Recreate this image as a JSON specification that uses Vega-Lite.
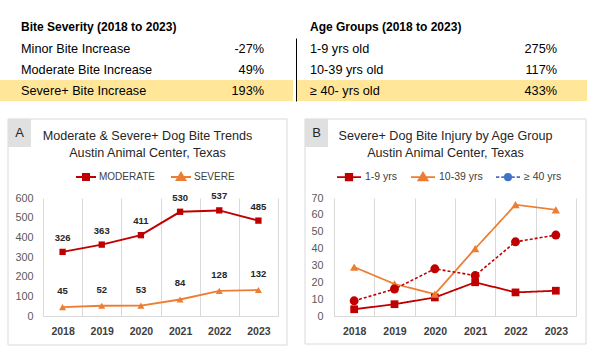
{
  "$schema": "https://vega.github.io/schema/vega-lite/v6.json",
  "padding": {"left": 0, "top": 21, "right": 0, "bottom": 0},
  "autosize": {"type": "pad"},
  "background": "white",
  "config": {"font": "Liberation Sans", "view": {"stroke": null}},
  "datasets": {
    "severity": [
      {"row": 1, "label": "Minor Bite Increase", "value": "-27%"},
      {"row": 2, "label": "Moderate Bite Increase", "value": "49%"},
      {"row": 3, "label": "Severe+ Bite Increase", "value": "193%"}
    ],
    "age": [
      {"row": 1, "label": "1-9 yrs old", "value": "275%"},
      {"row": 2, "label": "10-39 yrs old", "value": "117%"},
      {"row": 3, "label": "≥ 40- yrs old", "value": "433%"}
    ],
    "bites": [
      {"year": "2018", "series": "MODERATE", "count": 326},
      {"year": "2019", "series": "MODERATE", "count": 363},
      {"year": "2020", "series": "MODERATE", "count": 411},
      {"year": "2021", "series": "MODERATE", "count": 530},
      {"year": "2022", "series": "MODERATE", "count": 537},
      {"year": "2023", "series": "MODERATE", "count": 485},
      {"year": "2018", "series": "SEVERE", "count": 45},
      {"year": "2019", "series": "SEVERE", "count": 52},
      {"year": "2020", "series": "SEVERE", "count": 53},
      {"year": "2021", "series": "SEVERE", "count": 84},
      {"year": "2022", "series": "SEVERE", "count": 128},
      {"year": "2023", "series": "SEVERE", "count": 132}
    ],
    "ages": [
      {"year": "2018", "series": "1-9 yrs", "count": 4},
      {"year": "2019", "series": "1-9 yrs", "count": 7},
      {"year": "2020", "series": "1-9 yrs", "count": 11},
      {"year": "2021", "series": "1-9 yrs", "count": 20},
      {"year": "2022", "series": "1-9 yrs", "count": 14},
      {"year": "2023", "series": "1-9 yrs", "count": 15},
      {"year": "2018", "series": "10-39 yrs", "count": 29},
      {"year": "2019", "series": "10-39 yrs", "count": 19},
      {"year": "2020", "series": "10-39 yrs", "count": 13},
      {"year": "2021", "series": "10-39 yrs", "count": 40},
      {"year": "2022", "series": "10-39 yrs", "count": 66},
      {"year": "2023", "series": "10-39 yrs", "count": 63},
      {"year": "2018", "series": "≥ 40 yrs", "count": 9},
      {"year": "2019", "series": "≥ 40 yrs", "count": 16},
      {"year": "2020", "series": "≥ 40 yrs", "count": 28},
      {"year": "2021", "series": "≥ 40 yrs", "count": 24},
      {"year": "2022", "series": "≥ 40 yrs", "count": 44},
      {"year": "2023", "series": "≥ 40 yrs", "count": 48}
    ]
  },
  "vconcat": [
    {
      "hconcat": [
        {
          "width": 250, "height": 63,
          "data": {"name": "severity"},
          "title": {"text": "Bite Severity (2018 to 2023)", "anchor": "start", "frame": "group", "dx": -22, "offset": 4, "fontSize": 12, "fontWeight": "bold", "color": "#000000"},
          "layer": [
            {
              "transform": [{"filter": "datum.row == 3"}],
              "mark": {"type": "rect", "fill": "#FFE699"},
              "encoding": {
                "y": {"field": "row", "type": "ordinal", "scale": {"type": "band", "domain": [1, 2, 3], "paddingInner": 0, "paddingOuter": 0}, "axis": null},
                "x": {"datum": 0, "type": "quantitative", "scale": {"domain": [0, 1], "range": [-43, 250], "nice": false, "zero": false}, "axis": null},
                "x2": {"datum": 1}
              }
            },
            {
              "layer": [
                {
                  "mark": {"type": "text", "align": "left", "baseline": "middle", "fontSize": 12.7, "color": "#000000"},
                  "encoding": {
                    "y": {"field": "row", "type": "ordinal", "axis": null},
                    "x": {"datum": "label", "type": "nominal", "scale": {"type": "point", "domain": ["label", "value"], "range": [-22, 221], "padding": 0}, "axis": null},
                    "text": {"field": "label", "type": "nominal"}
                  }
                },
                {
                  "mark": {"type": "text", "align": "right", "baseline": "middle", "fontSize": 12.7, "color": "#000000"},
                  "encoding": {
                    "y": {"field": "row", "type": "ordinal", "axis": null},
                    "x": {"datum": "value", "type": "nominal", "axis": null},
                    "text": {"field": "value", "type": "nominal"}
                  }
                }
              ]
            }
          ],
          "resolve": {"scale": {"x": "independent"}}
        },
        {
          "width": 291, "height": 63,
          "data": {"name": "age"},
          "title": {"text": "Age Groups (2018 to 2023)", "anchor": "start", "frame": "group", "dx": 14, "offset": 4, "fontSize": 12, "fontWeight": "bold", "color": "#000000"},
          "layer": [
            {
              "transform": [{"filter": "datum.row == 3"}],
              "mark": {"type": "rect", "fill": "#FFE699"},
              "encoding": {"y": {"field": "row", "type": "ordinal", "scale": {"type": "band", "domain": [1, 2, 3], "paddingInner": 0, "paddingOuter": 0}, "axis": {"orient": "left", "labels": false, "ticks": false, "grid": false, "title": null, "domain": true, "domainColor": "#000000", "domainWidth": 1}}}
            },
            {
              "mark": {"type": "text", "align": "left", "baseline": "middle", "fontSize": 12.7, "color": "#000000"},
              "encoding": {
                "y": {"field": "row", "type": "ordinal"},
                "x": {"datum": "label", "type": "nominal", "scale": {"type": "point", "domain": ["label", "value"], "range": [14, 261], "padding": 0}, "axis": null},
                "text": {"field": "label", "type": "nominal"}
              }
            },
            {
              "mark": {"type": "text", "align": "right", "baseline": "middle", "fontSize": 12.7, "color": "#000000"},
              "encoding": {
                "y": {"field": "row", "type": "ordinal"},
                "x": {"datum": "value", "type": "nominal", "axis": null},
                "text": {"field": "value", "type": "nominal"}
              }
            }
          ]
        }
      ],
      "spacing": 3
    },
    {
      "hconcat": [
        {
          "width": 235, "height": 118,
          "title": {"text": ["Moderate & Severe+ Dog Bite Trends", "Austin Animal Center, Texas"], "anchor": "middle", "frame": "bounds", "fontSize": 12.6, "fontWeight": "normal", "color": "#262626", "lineHeight": 17, "offset": -41},
          "layer": [
            {
              "data": {"values": [{}]},
              "layer": [
                {
                  "mark": {"type": "rect", "fill": "transparent", "stroke": "#d9d9d9", "strokeWidth": 1},
                  "encoding": {
                    "x": {"datum": -0.1489, "type": "quantitative", "scale": {"domain": [0, 1], "nice": false, "zero": false}, "axis": null},
                    "x2": {"datum": 1.0383},
                    "y": {"datum": -0.2458, "type": "quantitative", "scale": {"domain": [0, 1], "nice": false, "zero": false}, "axis": null},
                    "y2": {"datum": 1.6695}
                  }
                },
                {
                  "mark": {"type": "rect", "fill": "#e0e0e0"},
                  "encoding": {
                    "x": {"datum": -0.1489, "type": "quantitative"},
                    "x2": {"datum": -0.0511},
                    "y": {"datum": 1.4322, "type": "quantitative"},
                    "y2": {"datum": 1.6695}
                  }
                },
                {
                  "mark": {"type": "text", "text": "A", "fontSize": 13, "color": "#262626", "align": "center", "baseline": "middle"},
                  "encoding": {
                    "x": {"datum": -0.1, "type": "quantitative"},
                    "y": {"datum": 1.5508, "type": "quantitative"}
                  }
                }
              ]
            },
            {
              "data": {"name": "bites"},
              "layer": [
                {
                  "mark": {"type": "line"},
                  "encoding": {
                    "x": {"field": "year", "type": "ordinal", "scale": {"type": "band", "paddingInner": 0, "paddingOuter": 0}, "axis": {"orient": "bottom", "title": null, "tickBand": "extent", "grid": true, "gridColor": "#d9d9d9", "domainColor": "#d9d9d9", "ticks": false, "labelPadding": 10, "labelFontSize": 10.5, "labelFontWeight": "bold", "labelColor": "#404040", "labelAngle": 0}},
                    "y": {"field": "count", "type": "quantitative", "scale": {"domain": [0, 600], "nice": false}, "axis": {"orient": "left", "title": null, "tickCount": 7, "labelOverlap": false, "domain": false, "ticks": false, "grid": false, "labelPadding": 10, "labelColor": "#595959", "labelFontSize": 10.8}},
                    "color": {"field": "series", "type": "nominal", "scale": {"domain": ["MODERATE", "SEVERE"], "range": ["#C00000", "#ED7D31"]}, "legend": null},
                    "strokeWidth": {"field": "series", "type": "nominal", "scale": {"domain": ["MODERATE", "SEVERE"], "range": [2, 1.6]}, "legend": null}
                  }
                },
                {
                  "mark": {"type": "point", "filled": true, "opacity": 1},
                  "encoding": {
                    "x": {"field": "year", "type": "ordinal"},
                    "y": {"field": "count", "type": "quantitative", "axis": {"orient": "left", "title": null, "tickCount": 7, "labelOverlap": false, "domain": false, "ticks": false, "grid": false, "labelPadding": 10, "labelColor": "#595959", "labelFontSize": 10.8}},
                    "color": {"field": "series", "type": "nominal", "legend": null},
                    "shape": {"field": "series", "type": "nominal", "scale": {"domain": ["MODERATE", "SEVERE"], "range": ["square", "triangle-up"]}, "legend": null},
                    "size": {"field": "series", "type": "nominal", "scale": {"domain": ["MODERATE", "SEVERE"], "range": [40, 80]}, "legend": null}
                  }
                },
                {
                  "transform": [{"filter": "datum.series == 'MODERATE'"}],
                  "mark": {"type": "text", "dy": -14, "fontSize": 9.5, "fontWeight": "bold", "color": "#262626"},
                  "encoding": {
                    "x": {"field": "year", "type": "ordinal"},
                    "y": {"field": "count", "type": "quantitative", "axis": {"orient": "left", "title": null, "tickCount": 7, "labelOverlap": false, "domain": false, "ticks": false, "grid": false, "labelPadding": 10, "labelColor": "#595959", "labelFontSize": 10.8}},
                    "text": {"field": "count", "type": "quantitative"}
                  }
                },
                {
                  "transform": [{"filter": "datum.series == 'SEVERE'"}],
                  "mark": {"type": "text", "dy": -16, "fontSize": 9.5, "fontWeight": "bold", "color": "#262626"},
                  "encoding": {
                    "x": {"field": "year", "type": "ordinal"},
                    "y": {"field": "count", "type": "quantitative", "axis": {"orient": "left", "title": null, "tickCount": 7, "labelOverlap": false, "domain": false, "ticks": false, "grid": false, "labelPadding": 10, "labelColor": "#595959", "labelFontSize": 10.8}},
                    "text": {"field": "count", "type": "quantitative"}
                  }
                },
                {
                  "transform": [{"filter": "false"}],
                  "mark": {"type": "point", "filled": true},
                  "encoding": {
                    "fill": {"field": "series", "type": "nominal", "scale": {"domain": ["MODERATE", "SEVERE"], "range": ["#C00000", "#ED7D31"]}, "legend": {"title": null, "orient": "none", "direction": "horizontal", "legendX": 32, "legendY": -32, "symbolSize": 400, "symbolStrokeWidth": 2, "symbolOpacity": 1, "labelFontSize": 10, "labelColor": "#404040", "labelOffset": 2, "columnPadding": 12}},
                    "stroke": {"field": "series", "type": "nominal", "scale": {"domain": ["MODERATE", "SEVERE"], "range": ["#C00000", "#ED7D31"]}, "legend": {"title": null, "orient": "none", "direction": "horizontal", "legendX": 32, "legendY": -32, "symbolSize": 400, "symbolStrokeWidth": 2, "symbolOpacity": 1, "labelFontSize": 10, "labelColor": "#404040", "labelOffset": 2, "columnPadding": 12}},
                    "shape": {"field": "series", "type": "nominal", "scale": {"domain": ["MODERATE", "SEVERE"], "range": ["M-1,0H1M-0.3,-0.3H0.3V0.3H-0.3Z", "M-1,0H1M0,-0.4L0.42,0.3H-0.42Z"]}, "legend": {"title": null, "orient": "none", "direction": "horizontal", "legendX": 32, "legendY": -32, "symbolSize": 400, "symbolStrokeWidth": 2, "symbolOpacity": 1, "labelFontSize": 10, "labelColor": "#404040", "labelOffset": 2, "columnPadding": 12}}
                  }
                }
              ],
              "resolve": {"scale": {"shape": "independent", "fill": "independent", "stroke": "independent"}}
            }
          ],
          "resolve": {"scale": {"x": "independent", "y": "independent"}}
        },
        {
          "width": 242, "height": 118,
          "title": {"text": ["Severe+ Dog Bite Injury by Age Group", "Austin Animal Center, Texas"], "anchor": "middle", "frame": "bounds", "fontSize": 12.6, "fontWeight": "normal", "color": "#262626", "lineHeight": 17, "offset": -41},
          "layer": [
            {
              "data": {"values": [{}]},
              "layer": [
                {
                  "mark": {"type": "rect", "fill": "transparent", "stroke": "#d9d9d9", "strokeWidth": 1},
                  "encoding": {
                    "x": {"datum": -0.1198, "type": "quantitative", "scale": {"domain": [0, 1], "nice": false, "zero": false}, "axis": null},
                    "x2": {"datum": 1.0413},
                    "y": {"datum": -0.2373, "type": "quantitative", "scale": {"domain": [0, 1], "nice": false, "zero": false}, "axis": null},
                    "y2": {"datum": 1.6695}
                  }
                },
                {
                  "mark": {"type": "rect", "fill": "#e0e0e0"},
                  "encoding": {
                    "x": {"datum": -0.1198, "type": "quantitative"},
                    "x2": {"datum": -0.0248},
                    "y": {"datum": 1.4322, "type": "quantitative"},
                    "y2": {"datum": 1.6695}
                  }
                },
                {
                  "mark": {"type": "text", "text": "B", "fontSize": 13, "color": "#262626", "align": "center", "baseline": "middle"},
                  "encoding": {
                    "x": {"datum": -0.0723, "type": "quantitative"},
                    "y": {"datum": 1.5508, "type": "quantitative"}
                  }
                }
              ]
            },
            {
              "data": {"name": "ages"},
              "layer": [
                {
                  "mark": {"type": "line"},
                  "encoding": {
                    "x": {"field": "year", "type": "ordinal", "scale": {"type": "band", "paddingInner": 0, "paddingOuter": 0}, "axis": {"orient": "bottom", "title": null, "tickBand": "extent", "grid": true, "gridColor": "#d9d9d9", "domainColor": "#d9d9d9", "ticks": false, "labelPadding": 10, "labelFontSize": 10.5, "labelFontWeight": "bold", "labelColor": "#404040", "labelAngle": 0}},
                    "y": {"field": "count", "type": "quantitative", "scale": {"domain": [0, 70], "nice": false}, "axis": {"orient": "left", "title": null, "tickCount": 8, "labelOverlap": false, "domain": false, "ticks": false, "grid": false, "labelPadding": 11, "labelColor": "#595959", "labelFontSize": 10.8}},
                    "color": {"field": "series", "type": "nominal", "scale": {"domain": ["1-9 yrs", "10-39 yrs", "≥ 40 yrs"], "range": ["#C00000", "#ED7D31", "#4472C4"]}, "legend": null},
                    "strokeDash": {"field": "series", "type": "nominal", "scale": {"domain": ["1-9 yrs", "10-39 yrs", "≥ 40 yrs"], "range": [[1, 0], [1, 0], [3, 2]]}, "legend": null},
                    "strokeWidth": {"field": "series", "type": "nominal", "scale": {"domain": ["1-9 yrs", "10-39 yrs", "≥ 40 yrs"], "range": [2, 1.8, 1.6]}, "legend": null}
                  }
                },
                {
                  "mark": {"type": "point", "filled": true, "opacity": 1},
                  "encoding": {
                    "x": {"field": "year", "type": "ordinal"},
                    "y": {"field": "count", "type": "quantitative", "axis": {"orient": "left", "title": null, "tickCount": 8, "labelOverlap": false, "domain": false, "ticks": false, "grid": false, "labelPadding": 11, "labelColor": "#595959", "labelFontSize": 10.8}},
                    "color": {"field": "series", "type": "nominal", "legend": null},
                    "shape": {"field": "series", "type": "nominal", "scale": {"domain": ["1-9 yrs", "10-39 yrs", "≥ 40 yrs"], "range": ["square", "triangle-up", "circle"]}, "legend": null},
                    "size": {"field": "series", "type": "nominal", "scale": {"domain": ["1-9 yrs", "10-39 yrs", "≥ 40 yrs"], "range": [42, 80, 34]}, "legend": null}
                  }
                },
                {
                  "transform": [{"filter": "false"}],
                  "mark": {"type": "point", "filled": true},
                  "encoding": {
                    "fill": {"field": "series", "type": "nominal", "scale": {"domain": ["1-9 yrs", "10-39 yrs", "≥ 40 yrs"], "range": ["#C00000", "#ED7D31", "#4472C4"]}, "legend": {"title": null, "orient": "none", "direction": "horizontal", "legendX": 2, "legendY": -34, "symbolSize": 576, "symbolStrokeWidth": 1.8, "symbolOpacity": 1, "labelFontSize": 10.5, "labelColor": "#404040", "labelOffset": 3, "columnPadding": 9}},
                    "stroke": {"field": "series", "type": "nominal", "scale": {"domain": ["1-9 yrs", "10-39 yrs", "≥ 40 yrs"], "range": ["#C00000", "#ED7D31", "#4472C4"]}, "legend": {"title": null, "orient": "none", "direction": "horizontal", "legendX": 2, "legendY": -34, "symbolSize": 576, "symbolStrokeWidth": 1.8, "symbolOpacity": 1, "labelFontSize": 10.5, "labelColor": "#404040", "labelOffset": 3, "columnPadding": 9}},
                    "shape": {"field": "series", "type": "nominal", "scale": {"domain": ["1-9 yrs", "10-39 yrs", "≥ 40 yrs"], "range": ["M-1,0H1M-0.27,-0.27H0.27V0.27H-0.27Z", "M-1,0H1M0,-0.36L0.38,0.27H-0.38Z", "M-1,0H-0.72M-0.56,0H-0.3M0.3,0H0.56M0.72,0H1M0.26,0A0.26,0.26 0 1,1 -0.26,0A0.26,0.26 0 1,1 0.26,0Z"]}, "legend": {"title": null, "orient": "none", "direction": "horizontal", "legendX": 2, "legendY": -34, "symbolSize": 576, "symbolStrokeWidth": 1.8, "symbolOpacity": 1, "labelFontSize": 10.5, "labelColor": "#404040", "labelOffset": 3, "columnPadding": 9}}
                  }
                }
              ],
              "resolve": {"scale": {"shape": "independent", "fill": "independent", "stroke": "independent"}}
            }
          ],
          "resolve": {"scale": {"x": "independent", "y": "independent"}}
        }
      ],
      "spacing": 16
    }
  ],
  "spacing": 17
}
